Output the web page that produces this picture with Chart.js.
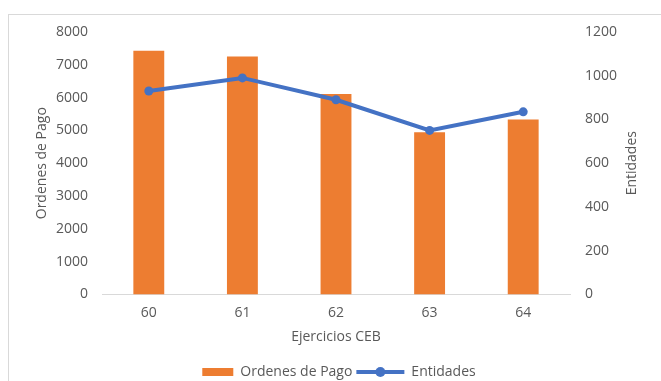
<!DOCTYPE html>
<html>
<head>
<meta charset="utf-8">
<script src="https://cdn.jsdelivr.net/npm/chart.js@4"></script>
<style>
  html, body { margin: 0; padding: 0; background: #fff; overflow: hidden; }
  #wrap { position: relative; width: 661px; height: 381px; }
  #frame { position: absolute; left: 8px; top: 14px; width: 700px; height: 400px; border: 1px solid #d9d9d9; }
  canvas { position: absolute; left: 0; top: 0; }
</style>
</head>
<body>
<div id="wrap">
  <div id="frame"></div>
  <canvas id="chart" width="661" height="381"></canvas>
</div>
<script>
// Ejercicios CEB
const ejercicios = ['60', '61', '62', '63', '64'];
const ordenesDePago = [7430, 7250, 6110, 4940, 5330];
const entidades = [930, 990, 890, 750, 835];

const orange = '#ED7D31';
const blue = '#4472C4';
const grey = '#595959';

Chart.defaults.font.family = '"Open Sans", sans-serif';
Chart.defaults.font.size = 14;
Chart.defaults.color = grey;

// legend symbols (bar box and line with marker) + right axis title read bottom-to-top
const extras = {
  id: 'extras',
  afterDraw(chart) {
    const ctx = chart.ctx;
    const boxes = chart.legend.legendHitBoxes;
    ctx.save();
    if (boxes.length === 2) {
      const b0 = boxes[0];
      const y0 = b0.top + b0.height / 2;
      ctx.fillStyle = orange;
      ctx.fillRect(b0.left + 17, y0 - 4, 31, 8);

      const b1 = boxes[1];
      const y1 = b1.top + b1.height / 2;
      ctx.strokeStyle = blue;
      ctx.lineWidth = 4;
      ctx.beginPath();
      ctx.moveTo(b1.left, y1);
      ctx.lineTo(b1.left + 48, y1);
      ctx.stroke();
      ctx.fillStyle = blue;
      ctx.beginPath();
      ctx.arc(b1.left + 24, y1, 5, 0, Math.PI * 2);
      ctx.fill();
    }
    const area = chart.chartArea;
    ctx.translate(632, (area.top + area.bottom) / 2);
    ctx.rotate(-Math.PI / 2);
    ctx.fillStyle = grey;
    ctx.font = '14px "Open Sans", sans-serif';
    ctx.textAlign = 'center';
    ctx.textBaseline = 'middle';
    ctx.fillText('Entidades', 0, 0);
    ctx.restore();
  }
};

const ctx = document.getElementById('chart').getContext('2d');
new Chart(ctx, {
  data: {
    labels: ejercicios,
    datasets: [
      {
        type: 'bar',
        label: 'Ordenes de Pago',
        data: ordenesDePago,
        backgroundColor: orange,
        yAxisID: 'y',
        categoryPercentage: 1,
        barPercentage: 0.33,
        order: 2
      },
      {
        type: 'line',
        label: 'Entidades',
        data: entidades,
        borderColor: blue,
        backgroundColor: blue,
        borderWidth: 4,
        pointRadius: 4.5,
        pointBackgroundColor: blue,
        pointBorderWidth: 0,
        yAxisID: 'y1',
        order: 1
      }
    ]
  },
  options: {
    responsive: false,
    animation: false,
    layout: { padding: { top: 32, bottom: -8, left: 0, right: 0 } },
    plugins: {
      tooltip: { enabled: false },
      legend: {
        position: 'bottom',
        labels: {
          boxWidth: 48,
          boxHeight: 8,
          padding: 4,
          font: { lineHeight: 1 },
          generateLabels() {
            return [
              { text: 'Ordenes de Pago', fillStyle: 'rgba(0,0,0,0)', strokeStyle: 'rgba(0,0,0,0)', lineWidth: 0, datasetIndex: 0, fontColor: grey },
              { text: 'Entidades', fillStyle: 'rgba(0,0,0,0)', strokeStyle: 'rgba(0,0,0,0)', lineWidth: 0, datasetIndex: 1, fontColor: grey }
            ];
          }
        }
      }
    },
    scales: {
      x: {
        grid: { display: false, drawTicks: false },
        border: { color: '#d9d9d9', width: 1 },
        ticks: { padding: 10 },
        title: { display: true, text: 'Ejercicios CEB', padding: { top: -3, bottom: 16 } }
      },
      y: {
        position: 'left',
        min: 0,
        max: 8000,
        grid: { display: false, drawTicks: false },
        border: { display: false },
        ticks: { stepSize: 1000, padding: 14, callback: v => String(v) },
        title: { display: true, text: 'Ordenes de Pago', padding: { top: 34, bottom: 0 } },
        afterFit(axis) { axis.width = 102; }
      },
      y1: {
        position: 'right',
        min: 0,
        max: 1200,
        grid: { display: false, drawTicks: false },
        border: { display: false },
        ticks: { stepSize: 200, padding: 15, callback: v => String(v) },
        afterFit(axis) { axis.width = 91; }
      }
    }
  },
  plugins: [extras]
});
</script>
</body>
</html>
